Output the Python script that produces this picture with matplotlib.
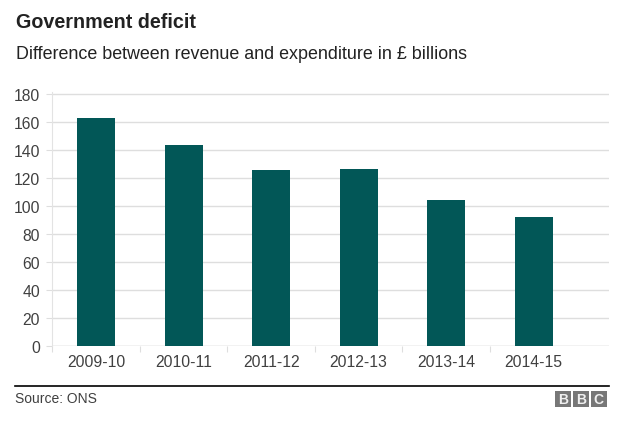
import matplotlib.pyplot as plt
from matplotlib.patches import Rectangle

years = ['2009-10', '2010-11', '2011-12', '2012-13', '2013-14', '2014-15']
deficit = [163.3, 144.0, 125.6, 126.4, 104.4, 92.1]
y_ticks = [0, 20, 40, 60, 80, 100, 120, 140, 160, 180]

W, H = 624, 427
plt.rcParams['font.family'] = ['Liberation Sans', 'DejaVu Sans']

fig = plt.figure(figsize=(W / 100, H / 100), dpi=100)
ax = fig.add_axes([52.3 / W, 1 - 346.7 / H, (609 - 52.3) / W, (346.7 - 93) / H])

x = list(range(len(years)))
ax.bar(x, deficit, width=0.434, color='#025757', zorder=3)

ax.set_xlim(-0.5, 5.86)
ax.set_ylim(0, 181.6)
ax.set_yticks(y_ticks)
ax.set_xticks(x)
ax.set_xticklabels(years)
ax.set_xticks([i - 0.5 for i in x], minor=True)

ax.grid(axis='y', color='#dedede', linewidth=1, zorder=0)
for s in ['top', 'right', 'bottom']:
    ax.spines[s].set_visible(False)
ax.spines['left'].set_color('#e3e3e3')
ax.axhline(0, color='#dedede', linewidth=1, zorder=1)

ax.tick_params(axis='y', length=4.5, width=0.8, color='#dedede', pad=4.3,
               labelsize=11.3, labelcolor='#404040')
ax.tick_params(axis='x', which='major', length=0, pad=6, labelsize=11.3,
               labelcolor='#404040')
ax.tick_params(axis='x', which='minor', length=4, width=0.8, color='#dedede')

fig.text(16 / W, 1 - 28 / H, 'Government deficit', fontsize=14.2, fontweight='bold',
         color='#222222', va='baseline', ha='left')
fig.text(16 / W, 1 - 59 / H, 'Difference between revenue and expenditure in £ billions',
         fontsize=12.9, color='#222222', va='baseline', ha='left')

fig.add_artist(plt.Line2D([15 / W, 609 / W], [1 - 386.5 / H, 1 - 386.5 / H],
                          color='black', linewidth=1.2))
fig.text(15 / W, 1 - 403 / H, 'Source: ONS', fontsize=10, color='#404040',
         va='baseline', ha='left')

# BBC logo blocks
for i, x0 in enumerate([555, 572.7, 590.7]):
    fig.add_artist(Rectangle((x0 / W, 1 - 407.7 / H), 16 / W, 16 / H,
                             transform=fig.transFigure, color='#777777', lw=0))
    fig.text((x0 + 8) / W, 1 - 399.7 / H, 'BBC'[i], fontsize=10, fontweight='bold',
             color='#f0f0f0', ha='center', va='center')

fig.savefig('out.png', dpi=100)
